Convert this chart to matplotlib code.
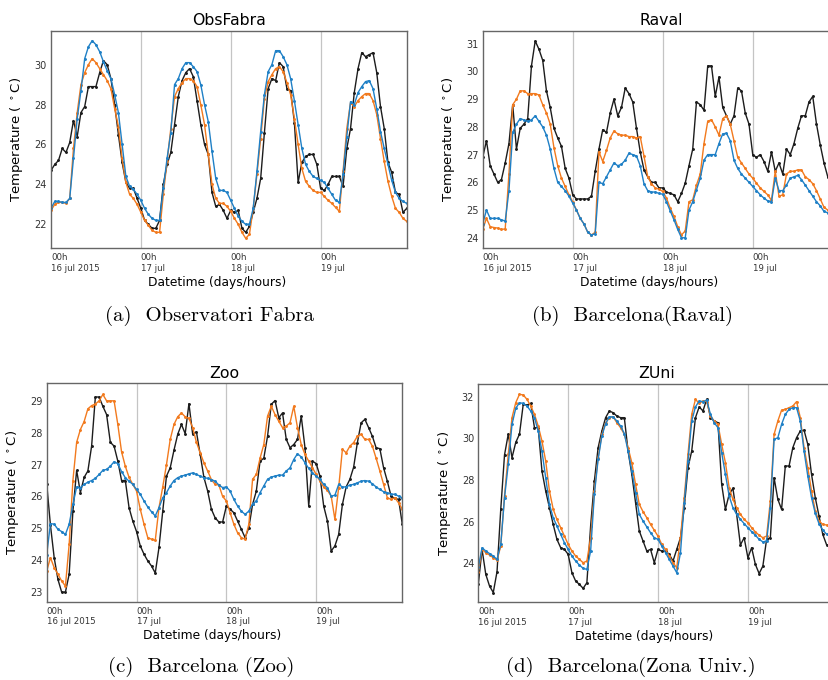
import numpy as np
import matplotlib.pyplot as plt

# Hourly temperatures, 16-19 jul 2015 (00h..23h each day)
day_ticks = [0, 24, 48, 72]
day_labels = ["00h\n16 jul 2015", "00h\n17 jul", "00h\n18 jul", "00h\n19 jul"]

# ObsFabra
fabra_obs = [24.7, 25.0, 25.2, 25.8, 25.6, 26.1, 27.2, 26.4, 27.6, 27.9, 28.9, 28.9, 28.9, 29.6, 30.2, 30.0, 29.3, 28.0, 26.5, 25.1, 24.1, 23.8, 23.8, 23.3,
             22.8, 22.2, 22.0, 21.8, 21.8, 22.2, 24.0, 25.0, 25.6, 27.0, 28.4, 29.2, 29.6, 29.8, 29.4, 28.2, 27.0, 26.0, 25.5, 23.6, 22.9, 23.0, 22.7, 22.3,
             22.7, 22.6, 22.7, 21.8, 21.6, 21.9, 22.6, 23.3, 24.3, 26.6, 28.8, 29.3, 29.2, 30.1, 29.9, 28.8, 28.7, 27.1, 24.1, 25.1, 25.4, 25.5, 25.5, 25.0,
             23.8, 23.7, 24.0, 24.4, 24.4, 24.4, 23.9, 25.8, 26.8, 28.6, 29.8, 30.6, 30.4, 30.5, 30.6, 29.6, 27.9, 26.8, 25.1, 24.6, 23.6, 23.5, 22.6, 22.8]
fabra_orange = [22.7, 23.0, 23.1, 23.1, 23.05, 23.3, 25.8, 27.6, 29.0, 29.6, 30.0, 30.3, 30.1, 29.8, 29.5, 29.2, 28.8, 27.8, 26.9, 25.3, 24.1, 23.5, 23.3, 23.0,
                22.6, 22.2, 21.95, 21.7, 21.6, 21.6, 23.5, 25.15, 26.8, 28.4, 28.8, 29.1, 29.3, 29.3, 29.2, 28.9, 28.0, 27.0, 25.5, 24.0, 23.3, 23.05, 23.05, 22.9,
                22.65, 22.3, 22.0, 21.6, 21.3, 21.5, 22.8, 24.5, 26.3, 28.3, 29.15, 29.5, 29.8, 29.9, 29.65, 29.1, 28.5, 27.3, 26.0, 24.8, 24.15, 23.9, 23.7, 23.6,
                23.6, 23.4, 23.2, 23.05, 22.85, 22.65, 24.65, 26.8, 28.1, 27.9, 28.2, 28.4, 28.55, 28.55, 28.2, 27.5, 26.3, 25.15, 24.15, 23.4, 22.8, 22.6, 22.3, 22.15]
fabra_blue = [22.8, 23.15, 23.15, 23.1, 23.1, 23.3, 25.3, 27.3, 28.7, 30.3, 30.9, 31.2, 31.0, 30.65, 30.15, 29.7, 29.3, 28.5, 27.6, 26.0, 24.4, 23.9, 23.75, 23.5,
              23.2, 22.8, 22.5, 22.3, 22.2, 22.2, 23.8, 25.3, 26.6, 29.0, 29.3, 29.8, 30.1, 30.1, 29.9, 29.65, 29.0, 28.0, 27.15, 25.65, 24.3, 23.7, 23.7, 23.6,
              23.2, 22.8, 22.4, 22.15, 22.0, 22.0, 22.8, 24.65, 26.65, 28.5, 29.65, 30.0, 30.7, 30.7, 30.4, 30.0, 29.3, 28.2, 27.0, 25.8, 25.0, 24.65, 24.4, 24.3,
              24.2, 24.1, 23.8, 23.5, 23.2, 23.1, 24.5, 26.4, 28.15, 28.0, 28.6, 28.9, 29.15, 29.2, 28.8, 27.8, 26.65, 25.8, 25.0, 24.2, 23.6, 23.3, 23.15, 23.05]

# Raval (panel cut at the right edge)
raval_obs = [26.9, 27.5, 26.6, 26.3, 26.0, 26.1, 26.7, 27.4, 28.8, 27.2, 27.95, 28.1, 28.3, 30.2, 31.1, 30.8, 30.4, 29.3, 28.7, 27.95, 27.6, 27.3, 26.5, 26.15,
             25.55, 25.4, 25.4, 25.4, 25.4, 25.5, 26.4, 27.2, 27.9, 27.8, 28.5, 29.0, 28.4, 28.7, 29.4, 29.2, 28.9, 27.95, 27.1, 26.45, 26.2, 26.0, 26.0, 25.8,
             25.8, 25.65, 25.6, 25.55, 25.3, 25.6, 25.97, 26.6, 27.2, 28.9, 28.8, 28.6, 30.2, 30.2, 29.1, 29.8, 28.7, 28.4, 28.1, 28.4, 29.4, 29.3, 28.5, 28.1,
             27.0, 26.9, 27.0, 26.75, 26.4, 27.1, 26.4, 26.7, 26.3, 27.2, 27.0, 27.4, 27.95, 28.4, 28.4, 28.9, 29.1, 28.1, 27.35, 26.7, 26.2, 25.9]
raval_orange = [24.3, 24.7, 24.4, 24.37, 24.35, 24.3, 24.32, 26.3, 28.8, 29.0, 29.3, 29.3, 29.2, 29.2, 29.2, 29.15, 28.8, 28.5, 28.1, 27.25, 26.6, 26.15, 25.85, 25.55,
                25.3, 25.0, 24.7, 24.5, 24.2, 24.1, 24.2, 27.1, 26.75, 27.15, 27.6, 27.85, 27.75, 27.7, 27.7, 27.65, 27.65, 27.6, 27.65, 26.95, 26.2, 25.95, 25.8, 25.75,
                25.67, 25.43, 25.07, 24.77, 24.4, 24.1, 24.25, 25.3, 25.37, 25.9, 26.3, 27.4, 28.2, 28.26, 28.0, 27.7, 28.3, 28.4, 28.1, 27.5, 26.9, 26.7, 26.5, 26.3,
                26.15, 25.97, 25.8, 25.67, 25.55, 25.35, 26.4, 25.5, 25.55, 26.3, 26.4, 26.4, 26.45, 26.45, 26.2, 26.1, 25.95, 25.7, 25.4, 25.1, 25.0, 24.9]
raval_blue = [24.5, 25.0, 24.7, 24.7, 24.7, 24.65, 24.6, 25.7, 27.8, 28.1, 28.3, 28.25, 28.2, 28.25, 28.4, 28.2, 28.0, 27.7, 27.2, 26.5, 26.0, 25.85, 25.7, 25.5,
              25.25, 25.0, 24.7, 24.5, 24.2, 24.1, 24.15, 26.0, 25.95, 26.2, 26.45, 26.7, 26.6, 26.65, 26.8, 27.05, 27.0, 26.95, 26.6, 25.95, 25.7, 25.65, 25.65, 25.6,
              25.57, 25.3, 24.97, 24.65, 24.3, 24.0, 24.0, 25.0, 25.3, 25.73, 26.15, 26.8, 27.0, 27.0, 27.0, 27.4, 27.75, 27.77, 27.5, 26.8, 26.5, 26.3, 26.15, 26.0,
              25.85, 25.7, 25.55, 25.43, 25.33, 25.3, 26.15, 25.7, 25.7, 25.9, 26.15, 26.2, 26.25, 26.1, 25.9, 25.7, 25.5, 25.3, 25.15, 24.95, 24.9, 24.85]

# Zoo
zoo_obs = [26.4, 25.1, 24.08, 23.4, 23.0, 23.0, 23.56, 25.54, 26.82, 26.12, 26.6, 26.8, 27.58, 29.12, 29.12, 28.83, 28.57, 27.7, 27.58, 27.11, 26.5, 26.5, 25.65, 25.23,
           24.9, 24.45, 24.19, 23.98, 23.82, 23.6, 24.4, 25.54, 26.64, 26.9, 27.45, 27.95, 28.26, 27.97, 28.91, 27.95, 28.03, 27.32, 26.6, 26.17, 25.6, 25.33, 25.2, 25.2,
           25.7, 25.6, 25.49, 25.23, 24.97, 24.71, 25.02, 25.75, 26.17, 27.11, 27.2, 27.89, 28.89, 29.01, 28.47, 28.62, 27.79, 27.53, 27.63, 27.79, 28.52, 27.53, 25.7, 27.11,
           27.03, 26.64, 25.7, 25.23, 24.29, 24.45, 24.81, 25.75, 26.3, 26.54, 26.92, 27.69, 28.31, 28.42, 28.16, 27.89, 27.53, 27.5, 26.9, 26.48, 26.01, 25.94, 25.91, 25.13]
zoo_orange = [23.66, 24.08, 23.77, 23.56, 23.35, 23.19, 24.5, 26.5, 27.7, 28.1, 28.35, 28.75, 28.85, 28.9, 29.0, 29.2, 29.0, 29.0, 29.0, 28.26, 27.4, 26.95, 26.6, 26.38,
              26.17, 25.6, 25.13, 24.71, 24.66, 24.62, 25.65, 26.3, 27.0, 27.79, 28.26, 28.5, 28.62, 28.5, 28.45, 28.16, 27.7, 27.37, 27.06, 26.8, 26.53, 26.38, 26.36, 26.0,
              25.86, 25.49, 25.13, 24.86, 24.71, 24.66, 25.13, 26.54, 26.69, 27.2, 27.63, 28.52, 28.83, 28.57, 28.36, 28.16, 28.21, 28.31, 28.83, 28.16, 27.63, 27.32, 27.11, 26.9,
              26.69, 26.48, 26.3, 26.19, 26.01, 25.28, 26.28, 27.48, 27.37, 27.58, 27.69, 27.89, 27.95, 27.79, 27.79, 27.58, 27.2, 26.8, 26.38, 25.96, 25.91, 25.96, 25.8, 25.6]
zoo_blue = [24.18, 25.15, 25.13, 24.97, 24.9, 24.81, 25.13, 25.75, 26.3, 26.28, 26.38, 26.45, 26.5, 26.57, 26.69, 26.82, 26.85, 26.95, 27.09, 27.03, 26.78, 26.59, 26.48, 26.38,
            26.22, 26.07, 25.86, 25.67, 25.52, 25.39, 25.65, 25.96, 26.12, 26.33, 26.5, 26.59, 26.64, 26.67, 26.71, 26.74, 26.69, 26.64, 26.59, 26.57, 26.53, 26.48, 26.36, 26.28,
            26.3, 26.17, 25.91, 25.7, 25.54, 25.44, 25.54, 25.77, 25.86, 26.12, 26.33, 26.54, 26.61, 26.64, 26.67, 26.67, 26.8, 26.9, 27.16, 27.34, 27.24, 27.06, 26.88, 26.74,
            26.64, 26.54, 26.38, 26.28, 26.01, 26.04, 26.38, 26.3, 26.3, 26.36, 26.38, 26.43, 26.48, 26.5, 26.48, 26.4, 26.3, 26.22, 26.15, 26.12, 26.07, 26.07, 26.01, 25.96]

# ZUni (panel cut at the right edge)
zuni_obs = [22.99, 24.67, 23.47, 22.91, 22.6, 23.6, 26.6, 29.2, 30.2, 29.07, 29.8, 30.2, 31.63, 31.6, 31.67, 30.51, 30.51, 28.43, 27.47, 26.67, 25.87, 25.15, 24.75, 24.67,
            24.43, 23.55, 23.15, 22.99, 22.8, 23.07, 25.79, 27.95, 29.55, 30.35, 30.99, 31.31, 31.23, 31.07, 30.99, 30.99, 29.39, 28.27, 26.91, 25.55, 25.07, 24.59, 24.67, 24.03,
            24.67, 24.59, 24.59, 24.43, 24.11, 24.67, 25.23, 26.67, 28.59, 29.39, 30.99, 31.51, 31.31, 31.87, 30.99, 30.83, 30.75, 27.79, 26.59, 27.31, 27.6, 26.35, 24.88, 25.23,
            24.27, 24.75, 23.95, 23.51, 23.87, 25.15, 25.23, 28.11, 27.07, 26.59, 28.67, 28.67, 29.55, 30.03, 30.35, 30.39, 29.71, 28.27, 27.15, 26.27, 25.39, 24.9]
zuni_orange = [23.6, 24.67, 24.51, 24.4, 24.27, 24.15, 24.83, 27.23, 29.23, 30.99, 31.71, 32.11, 32.08, 31.87, 31.55, 31.15, 30.59, 29.87, 28.91, 27.47, 26.6, 26.11, 25.71, 25.31,
               24.91, 24.59, 24.35, 24.19, 24.03, 24.11, 25.23, 27.47, 29.07, 30.19, 30.75, 30.99, 31.03, 30.75, 30.51, 30.19, 29.55, 28.83, 27.79, 26.83, 26.48, 26.19, 25.87, 25.59,
               25.3, 24.91, 24.67, 24.35, 24.03, 23.79, 25.23, 27.15, 29.23, 31.15, 31.87, 31.67, 31.79, 31.76, 31.07, 30.83, 30.67, 29.71, 28.83, 27.63, 27.07, 26.67, 26.35, 26.11,
               25.95, 25.71, 25.51, 25.35, 25.23, 25.31, 26.99, 30.19, 30.83, 31.35, 31.39, 31.47, 31.55, 31.76, 30.99, 29.55, 28.59, 27.47, 26.51, 26.03, 25.87, 25.84]
zuni_blue = [23.8, 24.75, 24.59, 24.47, 24.35, 24.19, 24.91, 27.15, 28.75, 30.67, 31.44, 31.71, 31.67, 31.55, 31.31, 30.99, 30.35, 29.39, 28.11, 26.83, 26.19, 25.79, 25.39, 24.99,
             24.67, 24.35, 24.11, 23.92, 23.76, 23.71, 24.59, 27.31, 28.99, 30.11, 30.7, 31.03, 31.03, 30.83, 30.59, 30.23, 29.39, 28.43, 27.39, 26.35, 26.03, 25.75, 25.47, 25.23,
             25.15, 24.83, 24.51, 24.19, 23.87, 23.55, 24.51, 26.91, 28.91, 30.83, 31.51, 31.79, 31.76, 31.83, 31.15, 30.75, 30.51, 29.31, 28.27, 27.23, 26.67, 26.35, 26.11, 25.91,
             25.71, 25.52, 25.35, 25.15, 25.03, 25.07, 26.67, 29.95, 30.03, 30.67, 31.15, 31.39, 31.47, 31.47, 30.83, 29.39, 28.19, 27.15, 26.4, 25.9, 25.6, 25.4]

OBS_C = "#1c1c1c"
ORANGE = "#f27a1e"
BLUE = "#1f80c6"
W, H = 829, 680


def px_axes(fig, left, top, right, bottom):
    return fig.add_axes([left / W, 1 - bottom / H, (right - left) / W, (bottom - top) / H])


def panel(ax, title, obs, orange, blue, ylim, yticks):
    for series, col in [(obs, OBS_C), (orange, ORANGE), (blue, BLUE)]:
        ax.plot(np.arange(len(series)), series, color=col, lw=1.0,
                marker=".", markersize=2.2)
    for d in day_ticks[1:]:
        ax.axvline(d, color="#c4c4c4", lw=0.9, zorder=0)
    ax.set_xlim(0, 95)
    ax.set_ylim(*ylim)
    ax.set_yticks(yticks)
    ax.set_xticks(day_ticks)
    ax.set_xticklabels(day_labels, ha="left", fontsize=6.2, color="#333333")
    ax.tick_params(axis="x", length=0, pad=3.5)
    ax.tick_params(axis="y", length=0, pad=3, labelsize=7, labelcolor="#333333")
    for s in ax.spines.values():
        s.set_color("#666666")
        s.set_linewidth(1.0)
    ax.set_title(title, fontsize=11.3, pad=4)
    ax.set_xlabel("Datetime (days/hours)", fontsize=8.8)
    ax.set_ylabel(r"Temperature ( $^\circ$C)", fontsize=9.5)
    ax.xaxis.set_label_coords(0.466, -0.125)
    ax.yaxis.set_label_coords(-0.072, 0.5)


fig = plt.figure(figsize=(W / 100, H / 100), dpi=100)

ax_a = px_axes(fig, 51, 30.7, 406.7, 248.3)
panel(ax_a, "ObsFabra", fabra_obs, fabra_orange, fabra_blue, (20.8, 31.7), [22, 24, 26, 28, 30])

ax_b = px_axes(fig, 482.7, 30.7, 839.0, 248.3)
panel(ax_b, "Raval", raval_obs, raval_orange, raval_blue, (23.62, 31.47), [24, 25, 26, 27, 28, 29, 30, 31])

ax_c = px_axes(fig, 46.7, 383.3, 402.3, 601.7)
panel(ax_c, "Zoo", zoo_obs, zoo_orange, zoo_blue, (22.7, 29.55), [23, 24, 25, 26, 27, 28, 29])

ax_d = px_axes(fig, 478.3, 383.7, 834.0, 602.3)
panel(ax_d, "ZUni", zuni_obs, zuni_orange, zuni_blue, (22.13, 32.62), [24, 26, 28, 30, 32])

captions = [("(a)  Observatori Fabra", 210, 316), ("(b)  Barcelona(Raval)", 633, 316),
            ("(c)  Barcelona (Zoo)", 201, 667), ("(d)  Barcelona(Zona Univ.)", 631, 667)]
for text, cx, cy in captions:
    fig.text(cx / W, 1 - cy / H, text, ha="center", va="center",
             fontsize=15, family="cmr10")

fig.savefig("out.png", dpi=100)
